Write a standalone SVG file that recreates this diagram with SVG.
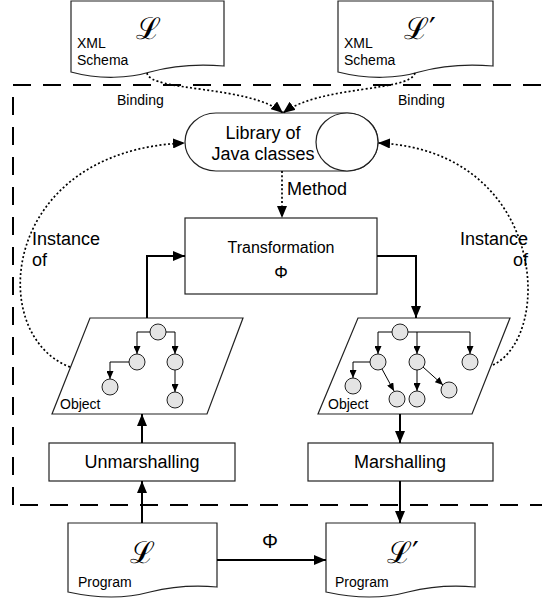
<svg xmlns="http://www.w3.org/2000/svg" width="542" height="601" viewBox="0 0 542 601">
<style>
text{font-family:"Liberation Sans",Arial,sans-serif;fill:#000}
.sm{font-size:14px}
.md{font-size:16px}
.lg{font-size:18px}
.math{font-family:"DejaVu Serif","Liberation Serif",serif;font-size:30px}
.shape{fill:#fff;stroke:#222;stroke-width:1.2}
.node{fill:#e4e4e4;stroke:#222;stroke-width:1}
.thin{fill:none;stroke:#000;stroke-width:1}
.main{fill:none;stroke:#000;stroke-width:2}
.dot{fill:none;stroke:#000;stroke-width:1.7;stroke-dasharray:2 2.3}
.frame{fill:none;stroke:#000;stroke-width:2;stroke-dasharray:18 12}
</style>
<defs>
<marker id="big" viewBox="0 0 12 10" refX="12" refY="5" markerWidth="12" markerHeight="10" markerUnits="userSpaceOnUse" orient="auto"><path d="M0,0 L12,5 L0,10 Z" fill="#000"/></marker>
<marker id="small" viewBox="0 0 8 7" refX="8" refY="3.5" markerWidth="8" markerHeight="7" markerUnits="userSpaceOnUse" orient="auto"><path d="M0,0 L8,3.5 L0,7 Z" fill="#000"/></marker>
</defs>

<g id="frame"><path class="frame" d="M13,505 V85 H545 M20,505 H545"/></g>

<g id="doc-schema-L">
<path class="shape" d="M71,1 H224 V66 C200,64 175,65 150,72 C130,78 100,80 71,72 Z"/>
<text class="math" x="148" y="39" text-anchor="middle">ℒ</text>
<text class="sm" x="77" y="48">XML</text>
<text class="sm" x="77" y="65">Schema</text>
</g>
<g id="doc-schema-L2">
<path class="shape" d="M338,1 H493 V66 C469,64 444,65 419,72 C399,78 369,80 338,72 Z"/>
<text class="math" x="420" y="39" text-anchor="middle">ℒ′</text>
<text class="sm" x="344" y="48">XML</text>
<text class="sm" x="344" y="65">Schema</text>
</g>

<g id="library">
<path class="shape" d="M216,113 H347 A31,29 0 0 1 347,171 H216 A31,29 0 0 1 216,113 Z"/>
<ellipse class="shape" cx="347" cy="142" rx="31" ry="29"/>
<text class="lg" x="263" y="139" text-anchor="middle">Library of</text>
<text class="lg" x="263" y="160" text-anchor="middle">Java classes</text>
</g>

<g id="transformation">
<rect class="shape" x="185" y="218" width="192" height="76"/>
<text class="md" x="281" y="253" text-anchor="middle">Transformation</text>
<text x="281" y="278" text-anchor="middle" font-size="17">Φ</text>
</g>

<g id="object-left">
<path class="shape" d="M90,318 H243 L207,414 H52 Z"/>
<text class="sm" x="60" y="409">Object</text>
<circle class="node" cx="158" cy="332" r="8"/>
<circle class="node" cx="137" cy="362" r="8"/>
<circle class="node" cx="175" cy="362" r="8"/>
<circle class="node" cx="110" cy="387" r="8"/>
<circle class="node" cx="175" cy="400" r="8"/>
</g>

<g id="object-right">
<path class="shape" d="M358,318 H510 L472,414 H318 Z"/>
<text class="sm" x="328" y="409">Object</text>
<circle class="node" cx="400" cy="332" r="8"/>
<circle class="node" cx="378" cy="362" r="8"/>
<circle class="node" cx="417" cy="362" r="8"/>
<circle class="node" cx="470" cy="362" r="8"/>
<circle class="node" cx="353" cy="386" r="8"/>
<circle class="node" cx="397" cy="399" r="8"/>
<circle class="node" cx="417" cy="399" r="8"/>
<circle class="node" cx="449" cy="390" r="8"/>
</g>

<g id="unmarshalling">
<rect class="shape" x="49" y="443" width="186" height="38"/>
<text class="lg" x="142" y="468" text-anchor="middle">Unmarshalling</text>
</g>
<g id="marshalling">
<rect class="shape" x="308" y="443" width="185" height="38"/>
<text class="lg" x="400" y="468" text-anchor="middle">Marshalling</text>
</g>

<g id="program-L">
<path class="shape" d="M68,523 H217 V587 C195,585 170,587 150,592 C128,598 100,599 68,592 Z"/>
<text class="math" x="142" y="563" text-anchor="middle">ℒ</text>
<text class="sm" x="78" y="587">Program</text>
</g>
<g id="program-L2">
<path class="shape" d="M326,523 H475 V587 C453,585 428,587 408,592 C386,598 358,599 326,592 Z"/>
<text class="math" x="403" y="563" text-anchor="middle">ℒ′</text>
<text class="sm" x="335" y="587">Program</text>
</g>

<g id="connectors">
<path class="dot" d="M147,73 C150,92 250,85 283,113" marker-end="url(#big)"/>
<path class="dot" d="M415,73 C410,92 320,85 283,113" marker-end="url(#big)"/>
<text class="sm" x="117" y="105">Binding</text>
<text class="sm" x="398" y="105">Binding</text>
<path class="dot" d="M282,171 V218" marker-end="url(#big)"/>
<text class="lg" x="287" y="195">Method</text>
<path class="dot" d="M70,367 C-15,335 0,150 185,143" marker-end="url(#big)"/>
<path class="dot" d="M493,365 C555,335 545,150 378,143" marker-end="url(#big)"/>
<text class="lg" x="32" y="245">Instance</text>
<text class="lg" x="32" y="266">of</text>
<text class="lg" x="528" y="245" text-anchor="end">Instance</text>
<text class="lg" x="528" y="266" text-anchor="end">of</text>
<path class="main" d="M147,318 V256 H185" marker-end="url(#big)"/>
<path class="main" d="M377,256 H416 V318" marker-end="url(#big)"/>
<path class="main" d="M142,523 V481" marker-end="url(#big)"/>
<path class="main" d="M142,443 V414" marker-end="url(#big)"/>
<path class="main" d="M400,414 V443" marker-end="url(#big)"/>
<path class="main" d="M400,481 V523" marker-end="url(#big)"/>
<path class="main" d="M217,560 H326" marker-end="url(#big)"/>
<text x="270" y="548" text-anchor="middle" font-size="20">Φ</text>
<path class="thin" d="M150,332 H137 V354" marker-end="url(#small)"/>
<path class="thin" d="M166,332 H175 V354" marker-end="url(#small)"/>
<path class="thin" d="M129,362 H110 V379" marker-end="url(#small)"/>
<path class="thin" d="M175,370 V392" marker-end="url(#small)"/>
<path class="thin" d="M392,332 H378 V354" marker-end="url(#small)"/>
<path class="thin" d="M408,332 H470 V354" marker-end="url(#small)"/>
<path class="thin" d="M417,332 V354" marker-end="url(#small)"/>
<path class="thin" d="M370,362 H353 V378" marker-end="url(#small)"/>
<path class="thin" d="M382,369 L394,391" marker-end="url(#small)"/>
<path class="thin" d="M417,370 V391" marker-end="url(#small)"/>
<path class="thin" d="M423,367 L443,385" marker-end="url(#small)"/>
</g>
</svg>
